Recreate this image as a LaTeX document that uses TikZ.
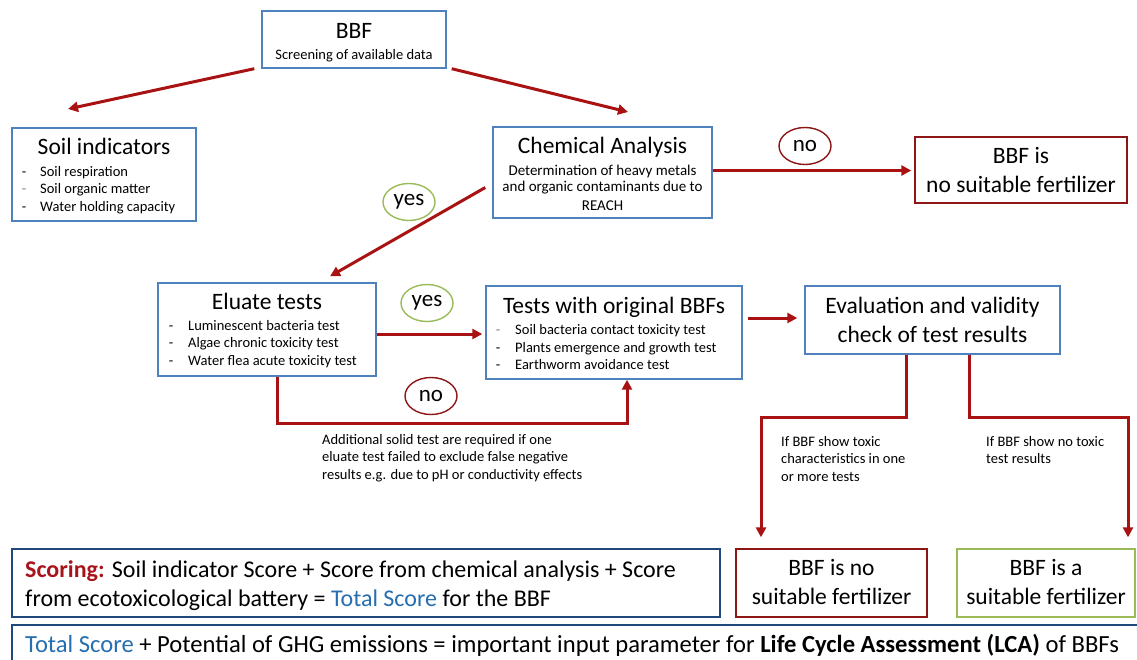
\documentclass[tikz,border=0pt]{standalone}
\usepackage{fontspec}
\setmainfont{Carlito}
\usetikzlibrary{arrows.meta,shapes.geometric}
\definecolor{bxblue}{RGB}{79,129,189}
\definecolor{arred}{RGB}{168,18,18}
\definecolor{nored}{RGB}{140,22,22}
\definecolor{okgreen}{RGB}{155,187,89}
\definecolor{scblue}{RGB}{31,73,125}
\definecolor{tsblue}{RGB}{38,110,175}
\definecolor{scred}{RGB}{168,20,28}
\begin{document}
\begin{tikzpicture}[x=1pt,y=-1pt,
  bbox/.style={draw=bxblue,line width=1.4pt,fill=white,inner sep=0pt,rectangle},
  rbox/.style={draw=nored,line width=1.4pt,fill=white,inner sep=0pt,rectangle},
  gbox/.style={draw=okgreen,line width=1.4pt,fill=white,inner sep=0pt,rectangle},
  sbox/.style={draw=scblue,line width=1.6pt,inner sep=0pt,rectangle},
  arr/.style={draw=arred,line width=3pt,-{Triangle[length=10pt,width=10pt]}},
  big/.style={font=\fontsize{23.5}{28}\selectfont,anchor=base,inner sep=0pt},
  bot/.style={font=\fontsize{24.6}{29}\selectfont,anchor=base west,inner sep=0pt},
  sml/.style={font=\fontsize{14.5}{17}\selectfont,anchor=base,inner sep=0pt},
  med/.style={font=\fontsize{15}{18}\selectfont,anchor=base,inner sep=0pt},
  lft/.style={anchor=base west},
  bub/.style={ellipse,line width=1.4pt,minimum width=52pt,minimum height=37pt,inner sep=0pt,font=\fontsize{23}{27}\selectfont}]
\useasboundingbox (0,0) rectangle (1137,659);
\fill[white] (0,0) rectangle (1137,659);
\clip (0,0) rectangle (1137,659);

% top box
\node[bbox,minimum width=184pt,minimum height=57pt] (bbf) at (354,39.5) {};
\node[big] (bbfT) at (354,38) {BBF};
\node[sml] (bbfS) at (354,59) {Screening of available data};

% soil indicators
\node[bbox,minimum width=184pt,minimum height=93pt] (soil) at (104,174.5) {};
\node[big] (soilT) at (104,154) {Soil indicators};
\node[sml] (soilD1) at (24,176) {-};
\node[sml,lft] (soil1) at (40,176) {Soil respiration};
\node[sml,text=gray] (soilD2) at (24,193) {-};
\node[sml,lft] (soil2) at (40,193) {Soil organic matter};
\node[sml] (soilD3) at (24,211) {-};
\node[sml,lft] (soil3) at (40,211) {Water holding capacity};

% chemical analysis
\node[bbox,minimum width=219pt,minimum height=91pt] (chem) at (602.5,172.5) {};
\node[big] (chemT) at (602.5,153) {Chemical Analysis};
\node[med] (chem1) at (602.5,175) {Determination of heavy metals};
\node[med] (chem2) at (602.5,191) {and organic contaminants due to};
\node[med] (chem3) at (602.5,210) {REACH};

% BBF is no suitable fertilizer (top right)
\node[rbox,minimum width=212pt,minimum height=66pt] (nobox) at (1021,170) {};
\node[big] (noboxT1) at (1021,163) {BBF is};
\node[big] (noboxT2) at (1021,192) {no suitable fertilizer};

\node[bub,draw=nored] (no1) at (805,146) {no};
\node[bub,draw=okgreen] (yes1) at (409,202) {yes};

% eluate tests
\node[bbox,minimum width=218pt,minimum height=93pt] (elu) at (267,329.5) {};
\node[big] (eluT) at (267,309) {Eluate tests};
\node[sml] (eluD1) at (171,330) {-};
\node[sml,lft] (elu1) at (188,330) {Luminescent bacteria test};
\node[sml] (eluD2) at (171,347.5) {-};
\node[sml,lft] (elu2) at (188,347.5) {Algae chronic toxicity test};
\node[sml] (eluD3) at (171,365) {-};
\node[sml,lft] (elu3) at (188,365) {Water flea acute toxicity test};

% tests with original BBFs
\node[bbox,minimum width=256pt,minimum height=93pt] (tests) at (614,332.5) {};
\node[big] (testsT) at (614,313) {Tests with original BBFs};
\node[sml,text=gray] (tstD1) at (498,334) {-};
\node[sml,lft] (tst1) at (515,334) {Soil bacteria contact toxicity test};
\node[sml] (tstD2) at (498,352) {-};
\node[sml,lft] (tst2) at (515,352) {Plants emergence and growth test};
\node[sml] (tstD3) at (498,369) {-};
\node[sml,lft] (tst3) at (515,369) {Earthworm avoidance test};

\node[bub,draw=okgreen] (yes2) at (427,303) {yes};
\node[bub,draw=nored] (no2) at (431,396) {no};

% evaluation
\node[bbox,minimum width=255pt,minimum height=68pt] (eval) at (932.5,320) {};
\node[big] (evalT1) at (932.5,313) {Evaluation and validity};
\node[big] (evalT2) at (932.5,342) {check of test results};

% annotation texts
\node[sml,lft] (add1) at (322,444) {Additional solid test are required if one};
\node[sml,lft] (add2) at (322,461) {eluate test failed to exclude false negative};
\node[sml,lft] (add3) at (322,479) {results e.g. due to pH or conductivity effects};
\node[sml,lft] (tox1) at (781,446) {If BBF show toxic};
\node[sml,lft] (tox2) at (781,463) {characteristics in one};
\node[sml,lft] (tox3) at (781,481) {or more tests};
\node[sml,lft] (ntox1) at (986,446) {If BBF show no toxic};
\node[sml,lft] (ntox2) at (986,463) {test results};

% bottom result boxes
\node[rbox,minimum width=191pt,minimum height=68pt] (nobox2) at (831.5,583) {};
\node[big] (nobox2T1) at (831.5,575) {BBF is no};
\node[big] (nobox2T2) at (831.5,604) {suitable fertilizer};
\node[gbox,minimum width=178pt,minimum height=68pt] (okbox) at (1046,583) {};
\node[big] (okboxT1) at (1046,575) {BBF is a};
\node[big] (okboxT2) at (1046,604) {suitable fertilizer};

% scoring
\node[sbox,minimum width=708pt,minimum height=68pt] (score) at (366,583) {};
\node[bot,font=\fontsize{24}{29}\selectfont] (score1) at (25,577) {\textcolor{scred}{\textbf{Scoring:}} Soil indicator Score + Score from chemical analysis + Score};
\node[bot,font=\fontsize{24}{29}\selectfont] (score2) at (25,606) {from ecotoxicological battery = \textcolor{tsblue}{Total Score} for the BBF};
\node[sbox,minimum width=1140pt,minimum height=50pt] (lca) at (582,650) {};
\node[bot] (lcaT) at (25,652) {\textcolor{tsblue}{Total Score} + Potential of GHG emissions = important input parameter for \textbf{Life Cycle Assessment (LCA)} of BBFs};

% connectors
\coordinate (soilA) at (68,109);
\coordinate (chemA) at (628,112);
\draw[arr] ([xshift=-7pt]bbf.south west) -- (soilA);
\draw[arr] ([xshift=5pt]bbf.south east) -- (chemA);
\draw[arr,shorten >=3pt] ([yshift=2pt]chem.east) -- ([yshift=2pt]chem.east -| nobox.west);
\draw[arr] ([shift={(-7,15)}]chem.west) -- ([shift={(63,-6)}]elu.north);
\draw[arr,shorten >=3pt] ([yshift=-4.5pt]elu.east) -- ([yshift=-4.5pt]elu.east -| tests.west);
\draw[arr] ([xshift=10pt]elu.south) -- ++(0,47) -| ([xshift=13pt]tests.south);
\draw[arr,shorten <=5pt,shorten >=7pt] ([yshift=2pt]tests.east |- eval.west) -- ([yshift=2pt]eval.west);
\draw[arr,shorten >=11pt] ([xshift=-26.5pt]eval.south) -- ++(0,63) -| ([xshift=-70.5pt]nobox2.north);
\draw[arr,shorten >=11pt] ([xshift=36.5pt]eval.south) -- ++(0,63) -| ([xshift=82pt]okbox.north);
\end{tikzpicture}
\end{document}
